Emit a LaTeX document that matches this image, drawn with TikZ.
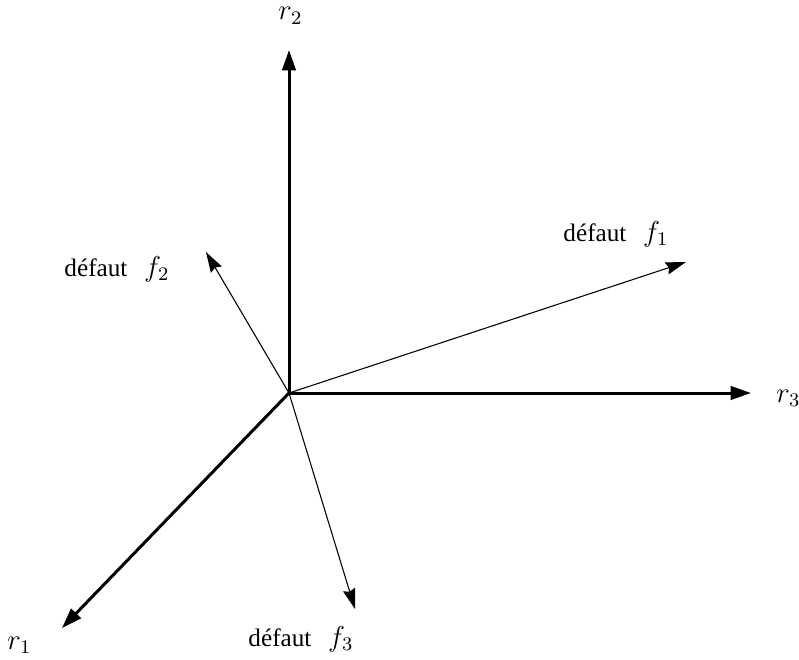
\documentclass[tikz,border=0pt]{standalone}
\usepackage{fontspec}
\setmainfont{Liberation Serif}
\usetikzlibrary{arrows.meta}

\newcommand{\bigmath}[1]{{\fontsize{12}{14}\selectfont$#1$}}

\begin{document}
\begin{tikzpicture}[
    x=0.4167pt, y=-0.4167pt,
    axis/.style={-{Triangle[length=8.5pt, width=5.6pt]}, line width=1.25pt},
    fault/.style={-{Stealth[length=8.5pt, width=5.2pt, inset=1pt]}, line width=0.45pt},
    lab/.style={inner sep=0pt, font=\fontsize{10.5}{12}\selectfont}]
\useasboundingbox (0,0) rectangle (799,659);

% --- origin and arrow tips
\coordinate (o) at (289,393);
\coordinate (r1tip) at (62,628);
\coordinate (r2tip) at (289,50);
\coordinate (r3tip) at (751,393);
\coordinate (f1tip) at (686,262);
\coordinate (f2tip) at (206,252);
\coordinate (f3tip) at (355,609);

% --- axes
\draw[axis] (o) -- (r1tip);
\draw[axis] (o) -- (r2tip);
\draw[axis] (o) -- (r3tip);

% --- faults
\draw[fault] (o) -- (f1tip);
\draw[fault] (o) -- (f2tip);
\draw[fault] (o) -- (f3tip);

% --- labels
\node[lab, anchor=base west] (r1) at (7,649) {\bigmath{r_1}};
\node[lab, anchor=base west] (r2) at (278,20) {\bigmath{r_2}};
\node[lab, anchor=base west] (r3) at (776,402) {\bigmath{r_3}};
\node[lab, anchor=base west] (f1) at (563,241) {défaut\hspace{7pt}\bigmath{f_1}};
\node[lab, anchor=base west] (f2) at (64,276) {défaut\hspace{7pt}\bigmath{f_2}};
\node[lab, anchor=base west] (f3) at (248,646) {défaut\hspace{7pt}\bigmath{f_3}};
\end{tikzpicture}
\end{document}
